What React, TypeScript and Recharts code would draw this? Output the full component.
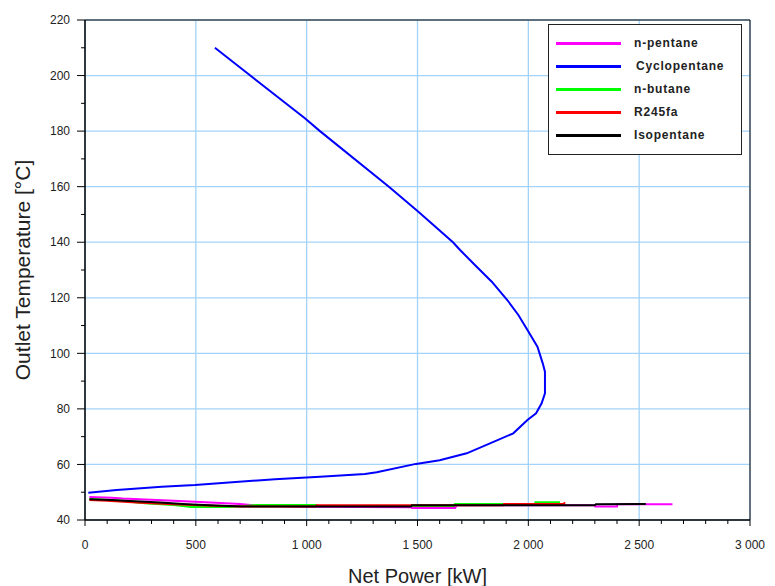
import React from 'react';
import { LineChart, Line, XAxis, YAxis, CartesianGrid, Legend, ReferenceArea } from 'recharts';

type Pt = { x: number; y: number };
const toPts = (a: number[][]): Pt[] => a.map(([x, y]) => ({ x, y }));

const nPentane = toPts([
  [20, 48.3], [120, 48.0], [170, 47.7], [350, 47.1], [520, 46.5], [700, 45.8], [770, 45.2],
  [1000, 44.8], [1470, 44.6], [1475, 44.3], [1670, 44.3], [1675, 45.3], [2300, 45.3],
  [2302, 44.9], [2400, 44.9], [2402, 45.7], [2650, 45.7],
]);

const cyclopentane = toPts([
  [586, 210], [992, 184.6], [1060, 180], [1371, 160], [1500, 151.2], [1660, 140], [1692, 137.2],
  [1759, 131.8], [1835, 125.8], [1905, 119.2], [1955, 113.8], [1996, 108.4], [2041, 102.4],
  [2065, 96.4], [2075, 93.4], [2075, 85.6], [2060, 82], [2035, 78.4], [1996, 76], [1932, 71.2],
  [1827, 67.6], [1722, 64], [1600, 61.5], [1493, 60.2], [1316, 57.2], [1263, 56.6], [1060, 55.6],
  [857, 54.7], [496, 52.6], [346, 52], [143, 50.8], [15, 49.8],
]);

const nButane = toPts([
  [20, 47.6], [150, 47.0], [270, 46.0], [400, 45.4], [480, 44.7], [650, 44.7], [720, 45.0],
  [776, 45.4], [1045, 45.4], [1050, 45.0], [1665, 45.0], [1669, 45.8], [1886, 45.8], [2030, 45.8],
  [2032, 46.4], [2143, 46.4],
]);

const r245fa = toPts([
  [20, 47.2], [100, 46.9], [250, 46.2], [400, 45.7], [550, 45.2], [700, 44.9], [1040, 44.9],
  [1045, 45.3], [1474, 45.3], [1886, 45.3], [1890, 45.8], [2160, 45.8], [2165, 46.4],
]);

const isopentane = toPts([
  [20, 47.5], [120, 47.2], [180, 46.9], [340, 46.3], [460, 45.7], [590, 45.2], [710, 44.9],
  [1470, 44.9], [1475, 45.3], [2300, 45.3], [2305, 45.7], [2530, 45.8],
]);

const seriesNames = ['n-pentane', 'Cyclopentane', 'n-butane', 'R245fa', 'Isopentane'];
const seriesColors = ['#ff00ff', '#0000ff', '#00ff00', '#ff0000', '#000000'];
const seriesData = [nPentane, cyclopentane, nButane, r245fa, isopentane];

const xMajorTicks = [0, 500, 1000, 1500, 2000, 2500, 3000];
const yMajorTicks = [40, 60, 80, 100, 120, 140, 160, 180, 200, 220];
const xAllTicks = Array.from({ length: 31 }, (_, i) => i * 100);
const yAllTicks = Array.from({ length: 19 }, (_, i) => 40 + i * 10);

const FONT = '"Liberation Sans", Arial, sans-serif';

const fmtX = (v: number) =>
  v >= 1000 ? `${Math.floor(v / 1000)} ${String(v % 1000).padStart(3, '0')}` : String(v);

const XTick = (props: any) => {
  const { x, y, payload } = props;
  const major = payload.value % 500 === 0;
  return (
    <g>
      <line x1={x} x2={x} y1={y} y2={y + (major ? 6 : 4)} stroke="#000" strokeWidth={1} />
      {major && (
        <text x={x} y={y + 29} textAnchor="middle" fontSize={12} fill="#222" fontFamily={FONT}>
          {fmtX(payload.value)}
        </text>
      )}
    </g>
  );
};

const YTick = (props: any) => {
  const { x, y, payload } = props;
  const major = payload.value % 20 === 0;
  return (
    <g>
      <line x1={x - (major ? 8 : 4)} x2={x} y1={y} y2={y} stroke="#000" strokeWidth={1} />
      {major && (
        <text x={x - 15} y={y} dy="0.35em" textAnchor="end" fontSize={12} fill="#222" fontFamily={FONT}>
          {payload.value}
        </text>
      )}
    </g>
  );
};

const LegendBox = () => (
  <div
    style={{
      position: 'relative',
      width: 194,
      height: 131,
      border: '1.5px solid #222',
      boxSizing: 'border-box',
      background: '#fff',
      fontFamily: FONT,
    }}
  >
    {seriesNames.map((n, i) => (
      <div key={n} style={{ position: 'absolute', left: 0, top: 19 + i * 23 - 1, width: '100%' }}>
        <div
          style={{
            position: 'absolute',
            left: 7,
            top: -1.5,
            width: 65,
            height: 3,
            background: seriesColors[i],
          }}
        />
        <div
          style={{
            position: 'absolute',
            left: n === 'Cyclopentane' ? 87 : 85,
            top: -8,
            fontSize: 12,
            lineHeight: '16px',
            fontWeight: 'bold',
            letterSpacing: 0.8,
            color: '#222',
            whiteSpace: 'nowrap',
          }}
        >
          {n}
        </div>
      </div>
    ))}
  </div>
);

export default function App() {
  return (
    <div style={{ position: 'absolute', left: 0, top: 0, width: 775, height: 586, background: '#fff' }}>
      <LineChart width={775} height={586} margin={{ top: 20, right: 25, left: 0, bottom: 0 }}>
        <CartesianGrid
          stroke="#a3d3f8"
          strokeWidth={1.3}
          verticalValues={xMajorTicks}
          horizontalValues={yMajorTicks}
        />
        <XAxis
          dataKey="x"
          type="number"
          domain={[0, 3000]}
          ticks={xAllTicks}
          interval={0}
          tickSize={0}
          tickMargin={0}
          tickLine={false}
          tick={<XTick />}
          height={66}
          axisLine={{ stroke: '#000' }}
          allowDataOverflow
          label={{
            content: (p: any) => {
              const vb = p.viewBox;
              return (
                <text
                  x={vb.x + vb.width / 2}
                  y={vb.y + 63}
                  textAnchor="middle"
                  fontSize={20}
                  fill="#222"
                  fontFamily={FONT}
                >
                  Net Power [kW]
                </text>
              );
            },
          }}
        />
        <YAxis
          type="number"
          domain={[40, 220]}
          ticks={yAllTicks}
          interval={0}
          tickSize={0}
          tickMargin={0}
          tickLine={false}
          tick={<YTick />}
          width={85}
          axisLine={{ stroke: '#000' }}
          allowDataOverflow
          label={{
            content: (p: any) => {
              const vb = p.viewBox;
              const cx = vb.x + 23;
              const cy = vb.y + vb.height / 2;
              return (
                <text
                  x={cx}
                  y={cy}
                  dy="0.35em"
                  textAnchor="middle"
                  fontSize={21}
                  fill="#222"
                  fontFamily={FONT}
                  transform={`rotate(-90 ${cx} ${cy})`}
                >
                  Outlet Temperature [°C]
                </text>
              );
            },
          }}
        />
        <ReferenceArea x1={0} x2={3000} y1={40} y2={220} fill="none" stroke="#000" strokeWidth={1} />
        {seriesData.map((d, i) => (
          <Line
            key={seriesNames[i]}
            name={seriesNames[i]}
            data={d}
            dataKey="y"
            type="linear"
            stroke={seriesColors[i]}
            strokeWidth={2}
            dot={false}
            activeDot={false}
            isAnimationActive={false}
          />
        ))}
        <Legend
          layout="horizontal"
          verticalAlign="middle"
          align="center"
          content={<LegendBox />}
          wrapperStyle={{ position: 'absolute', left: 548, top: 24, width: 194, height: 131 }}
        />
      </LineChart>
    </div>
  );
}
